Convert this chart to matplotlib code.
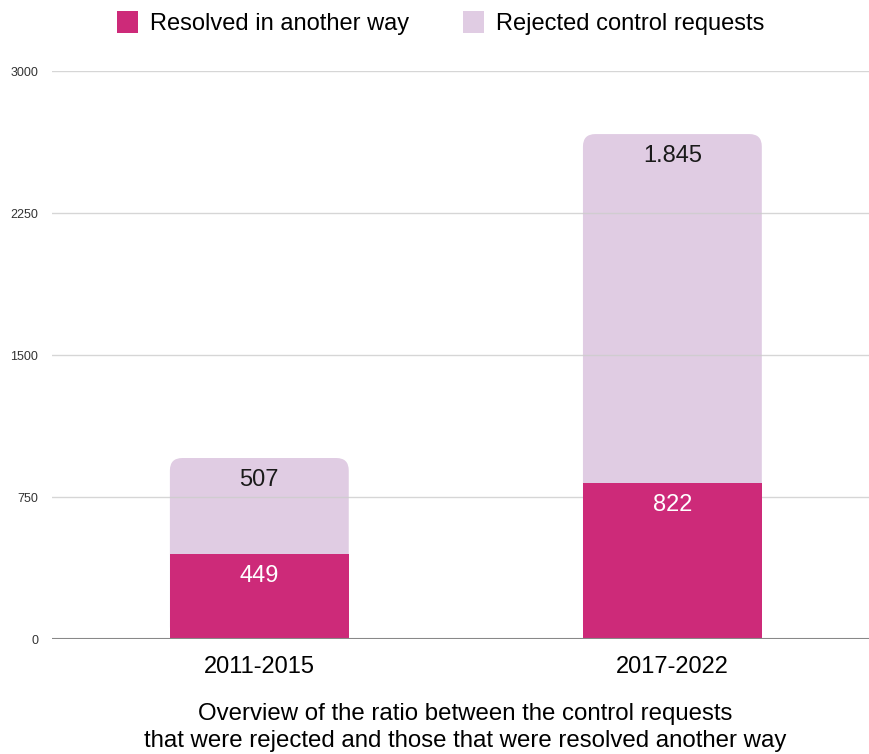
import numpy as np
import matplotlib.pyplot as plt
from matplotlib.patches import FancyBboxPatch, Patch

periods = ['2011-2015', '2017-2022']
resolved = [449, 822]
rejected = [507, 1845]
rejected_labels = ['507', '1.845']
yticks = [0, 750, 1500, 2250, 3000]

MAGENTA = '#CD2A79'
LILAC = '#E0CCE3'

plt.rcParams['font.family'] = ['Liberation Sans', 'DejaVu Sans']

fig = plt.figure(figsize=(8.69, 7.54), dpi=100)
ax = fig.add_axes([0.0598, 0.1525, 0.9402, 0.7533])

x = np.arange(len(periods))
width = 0.433
ax.set_xlim(-0.502, 1.476)
ax.set_ylim(0, 3000)

# aspect between y data units and x data units in pixels, for round corners
bbox = ax.get_window_extent()
xpx = bbox.width / (1.476 + 0.502)
ypx = bbox.height / 3000
aspect = xpx / ypx

for i in range(len(periods)):
    top = resolved[i] + rejected[i]
    box = FancyBboxPatch((x[i] - width / 2, 0), width, top,
                         boxstyle='round,pad=0,rounding_size=0.03',
                         mutation_aspect=aspect,
                         facecolor=LILAC, edgecolor='none', zorder=2)
    ax.add_patch(box)
ax.bar(x, resolved, width, color=MAGENTA, zorder=5)

for i in range(len(periods)):
    top = resolved[i] + rejected[i]
    ax.text(x[i], top - 115, rejected_labels[i], ha='center', va='center',
            fontsize=17, color='#1a1a1a', zorder=7)
    ax.text(x[i], resolved[i] - 115, str(resolved[i]), ha='center', va='center',
            fontsize=17, color='white', zorder=7)

# grid lines drawn over the light segments, faintly
for y in yticks[1:]:
    ax.axhline(y, color='#cccccc', lw=1, zorder=4, alpha=0.8)
ax.axhline(0, color='#888888', lw=1.5, zorder=6)

ax.set_yticks(yticks)
ax.set_yticklabels([str(t) for t in yticks], fontsize=9, color='#333333')
ax.set_xticks(x)
ax.set_xticklabels(periods, fontsize=17)
ax.tick_params(axis='y', length=0, pad=10)
ax.tick_params(axis='x', length=0, pad=12)
for s in ax.spines.values():
    s.set_visible(False)

handles = [Patch(facecolor=MAGENTA, label='Resolved in another way'),
           Patch(facecolor=LILAC, label='Rejected control requests')]
fig.legend(handles=handles, loc='upper center', bbox_to_anchor=(0.507, 1.013),
           ncol=2, frameon=False, fontsize=17, handlelength=0.9, handleheight=1.0,
           columnspacing=2.25, handletextpad=0.5)

fig.text(0.535, 0.002, 'Overview of the ratio between the control requests\n'
         'that were rejected and those that were resolved another way',
         ha='center', va='bottom', fontsize=17.3, linespacing=1.3)

fig.savefig('out.png', dpi=100)
